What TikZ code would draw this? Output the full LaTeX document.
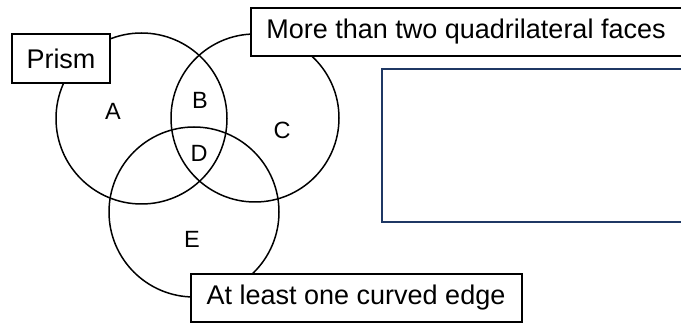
\documentclass[tikz,border=0pt]{standalone}
\usepackage{fontspec}
\setmainfont{Liberation Sans}
\definecolor{navy}{HTML}{1F3864}
\begin{document}
\begin{tikzpicture}[x=1pt,y=-1pt,
  ring/.style={draw=black,line width=1.5pt},
  labelbox/.style={draw=black,fill=white,line width=1.5pt,inner sep=0pt},
  region/.style={font=\fontsize{23.5}{28}\selectfont,inner sep=0pt},
  btext/.style={font=\fontsize{27}{32}\selectfont,inner sep=0pt}]
\useasboundingbox (0,0) rectangle (681,323);
\fill[white] (0,0) rectangle (681,323);
\draw[ring] (141.5,118.5) circle[radius=85.5];
\draw[ring] (255,118) circle[radius=84];
\draw[ring] (194,212) circle[radius=85];
% boxes
\draw[labelbox] (12,34) rectangle (110,83);
\node[btext] (prism) at (61,59) {Prism};
\draw[labelbox] (251,8) rectangle (684,56);
\node[btext] (more) at (466,32) {More than two quadrilateral faces};
\draw[labelbox] (191,274) rectangle (522,322);
\node[btext] (curved) at (356,298) {At least one curved edge};
\draw[draw=navy,line width=1.5pt] (382,69) rectangle (690,222);
% region labels
\node[region] (A) at (113,111) {A};
\node[region] (B) at (200,100) {B};
\node[region] (C) at (282,130) {C};
\node[region] (D) at (199,153) {D};
\node[region] (E) at (192,239) {E};
\end{tikzpicture}
\end{document}
